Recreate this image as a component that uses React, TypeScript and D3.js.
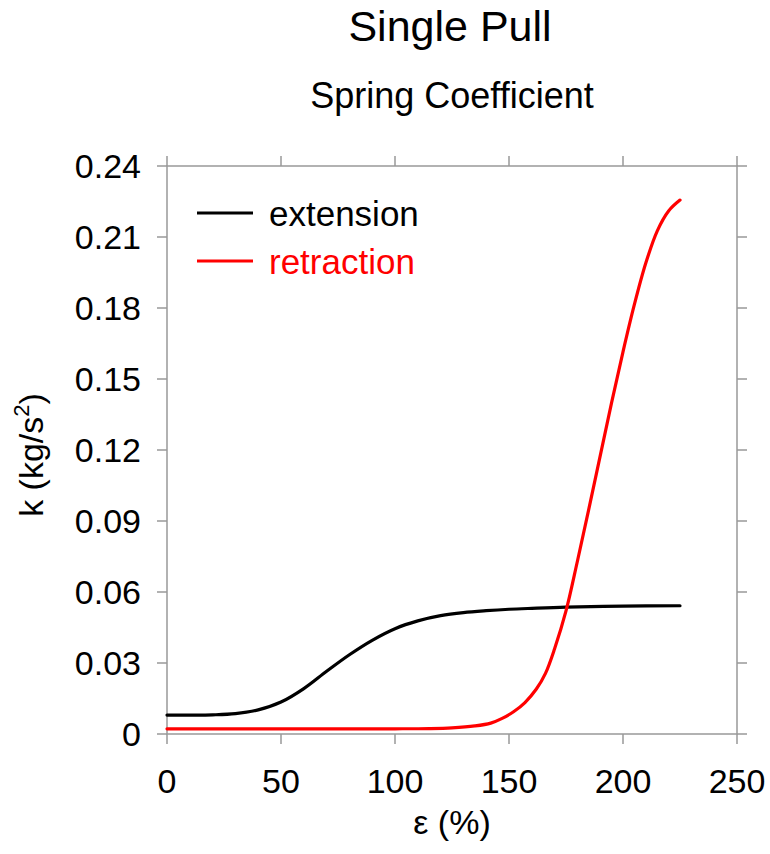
import React from "react";
import * as d3 from "d3";

// Strain (%) and spring coefficient k (kg/s^2) samples for each pull phase
const extensionStrain = [0, 10, 20, 30, 40, 50, 60, 70, 80, 90, 100, 110, 120, 130, 140, 150, 160, 175, 200, 225];
const extensionK = [0.008, 0.008, 0.0081, 0.0086, 0.0102, 0.0135, 0.0192, 0.0265, 0.0335, 0.0396, 0.0445, 0.0478, 0.05, 0.0513, 0.0521, 0.0527, 0.0531, 0.0536, 0.054, 0.0542];

const retractionStrain = [0, 50, 100, 115, 125, 135, 142, 147, 152, 157, 162, 166, 170, 175, 180, 185, 190, 195, 200, 205, 210, 215, 220, 225];
const retractionK = [0.0022, 0.0022, 0.0022, 0.0023, 0.0026, 0.0034, 0.0046, 0.0066, 0.0094, 0.0133, 0.019, 0.0256, 0.036, 0.052, 0.073, 0.095, 0.1175, 0.14, 0.1615, 0.1815, 0.199, 0.2125, 0.221, 0.2256];

const xTicks = [0, 50, 100, 150, 200, 250];
const yTicks = [0, 0.03, 0.06, 0.09, 0.12, 0.15, 0.18, 0.21, 0.24];
const yTickLabels = ["0", "0.03", "0.06", "0.09", "0.12", "0.15", "0.18", "0.21", "0.24"];

const seriesNames = ["extension", "retraction"];
const seriesColors = ["#000000", "#ff0000"];

const W = 770;
const H = 854;
const left = 167;
const right = 737;
const top = 166;
const bottom = 734;
const tickLen = 10;
const axisColor = "#999999";
const font = "'Liberation Sans', Arial, Helvetica, sans-serif";

export default function App() {
  const x = d3.scaleLinear().domain([0, 250]).range([left, right]);
  const y = d3.scaleLinear().domain([0, 0.24]).range([bottom, top]);

  const line = d3
    .line<[number, number]>()
    .x((d) => x(d[0]))
    .y((d) => y(d[1]))
    .curve(d3.curveCatmullRom.alpha(0.5));

  const series = [
    extensionStrain.map((s, i) => [s, extensionK[i]] as [number, number]),
    retractionStrain.map((s, i) => [s, retractionK[i]] as [number, number]),
  ];

  return (
    <svg
      width={W}
      height={H}
      style={{ position: "absolute", left: 0, top: 0, background: "#fff" }}
      fontFamily={font}
    >
      <rect x={0} y={0} width={W} height={H} fill="#fff" />
      <text x={450} y={41} textAnchor="middle" fontSize={43} fill="#000">
        Single Pull
      </text>
      <text x={452} y={108} textAnchor="middle" fontSize={36} fill="#000">
        Spring Coefficient
      </text>

      {/* frame */}
      <rect x={left} y={top} width={right - left} height={bottom - top} fill="none" stroke={axisColor} strokeWidth={1.5} />

      {/* x ticks, bottom and top, outward */}
      {xTicks.map((t) => (
        <g key={"x" + t}>
          <line x1={x(t)} x2={x(t)} y1={bottom} y2={bottom + tickLen} stroke={axisColor} strokeWidth={1.5} />
          <line x1={x(t)} x2={x(t)} y1={top} y2={top - tickLen} stroke={axisColor} strokeWidth={1.5} />
          <text x={x(t)} y={793} textAnchor="middle" fontSize={34} fill="#000">
            {t}
          </text>
        </g>
      ))}

      {/* y ticks, left and right, outward */}
      {yTicks.map((t, i) => (
        <g key={"y" + t}>
          <line x1={left} x2={left - tickLen} y1={y(t)} y2={y(t)} stroke={axisColor} strokeWidth={1.5} />
          <line x1={right} x2={right + tickLen} y1={y(t)} y2={y(t)} stroke={axisColor} strokeWidth={1.5} />
          <text x={141} y={y(t)} dy="0.36em" textAnchor="end" fontSize={34} fill="#000">
            {yTickLabels[i]}
          </text>
        </g>
      ))}

      {/* axis titles */}
      <text x={452} y={834} textAnchor="middle" fontSize={34} fill="#000">
        ε (%)
      </text>
      <text transform={`translate(43,455) rotate(-90)`} textAnchor="middle" fontSize={34} fill="#000">
        k (kg/s
        <tspan fontSize={22} dy={-14}>
          2
        </tspan>
        <tspan dy={14}>)</tspan>
      </text>

      {/* curves */}
      {series.map((d, i) => (
        <path key={seriesNames[i]} d={line(d) ?? ""} fill="none" stroke={seriesColors[i]} strokeWidth={3.2} strokeLinecap="round" />
      ))}

      {/* legend */}
      {seriesNames.map((name, i) => (
        <g key={"leg" + name}>
          <line x1={197} x2={253} y1={213 + i * 48} y2={213 + i * 48} stroke={seriesColors[i]} strokeWidth={3.2} />
          <text x={269} y={226 + i * 48} fontSize={35} fill={seriesColors[i]}>
            {name}
          </text>
        </g>
      ))}
    </svg>
  );
}
